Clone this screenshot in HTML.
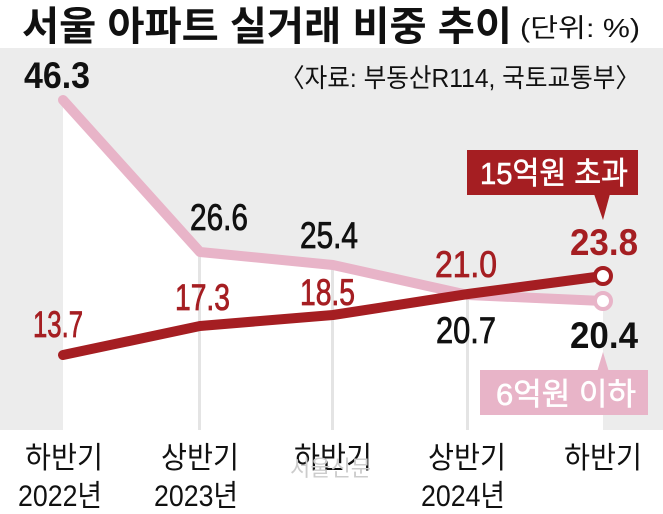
<!DOCTYPE html>
<html><head><meta charset="utf-8"><style>
body{margin:0;background:#fff}
text{font-family:"Liberation Sans","Noto Sans CJK KR",sans-serif}
</style></head><body>
<svg width="663" height="509" viewBox="0 0 663 509" xmlns="http://www.w3.org/2000/svg">
<rect x="0" y="0" width="663" height="509" fill="#fff"/>
<rect x="0" y="48" width="663" height="382" fill="#ececec"/>
<polygon points="63,100 200,252 333,265 468,295 603,301 603,430 63,430" fill="#fff"/>
<g fill="#e4e4e4">
<rect x="198" y="252" width="3" height="178"/>
<rect x="331" y="265" width="3" height="165"/>
<rect x="466" y="295" width="3" height="135"/>
</g>
<text x="22" y="40" font-size="40" font-weight="bold" fill="#111" textLength="490" lengthAdjust="spacingAndGlyphs">서울 아파트 실거래 비중 추이</text>
<text x="520" y="37" font-size="26" fill="#111" textLength="120" lengthAdjust="spacingAndGlyphs">(단위: %)</text>
<text x="280" y="87" font-size="26" fill="#111" textLength="360" lengthAdjust="spacingAndGlyphs">〈자료: 부동산R114, 국토교통부〉</text>
<polyline points="63,100 200,252 333,265 468,295 603,301" fill="none" stroke="#e8b4c8" stroke-width="10" stroke-linejoin="round" stroke-linecap="round"/>
<polyline points="63,355 200,326 333,315 468,294 603,276" fill="none" stroke="#a51e22" stroke-width="10" stroke-linejoin="round" stroke-linecap="round"/>
<circle cx="603" cy="276" r="8" fill="#fff" stroke="#a51e22" stroke-width="4"/>
<circle cx="603" cy="301" r="8" fill="#fff" stroke="#e8b4c8" stroke-width="4"/>
<g font-size="37" fill="#111">
<text x="24" y="88" font-weight="bold" textLength="66" lengthAdjust="spacingAndGlyphs">46.3</text>
<g stroke="#111" stroke-width="0.8">
<text x="190" y="230" textLength="58" lengthAdjust="spacingAndGlyphs">26.6</text>
<text x="300" y="248" textLength="58" lengthAdjust="spacingAndGlyphs">25.4</text>
<text x="436" y="343" textLength="60" lengthAdjust="spacingAndGlyphs">20.7</text>
</g>
<text x="570" y="348" font-weight="bold" textLength="68" lengthAdjust="spacingAndGlyphs">20.4</text>
</g>
<g font-size="37" fill="#a51e22">
<g stroke="#a51e22" stroke-width="0.8">
<text x="33" y="337" textLength="50" lengthAdjust="spacingAndGlyphs">13.7</text>
<text x="175" y="310" textLength="55" lengthAdjust="spacingAndGlyphs">17.3</text>
<text x="300" y="305" textLength="55" lengthAdjust="spacingAndGlyphs">18.5</text>
<text x="435" y="277" textLength="62" lengthAdjust="spacingAndGlyphs">21.0</text>
</g>
<text x="570" y="255" font-weight="bold" textLength="68" lengthAdjust="spacingAndGlyphs">23.8</text>
</g>
<rect x="467" y="150" width="171" height="45" fill="#a51e22"/>
<polygon points="594,194 610,194 603,220" fill="#a51e22"/>
<text x="480" y="184" font-size="31" fill="#fff" stroke="#fff" stroke-width="0.6" textLength="148" lengthAdjust="spacingAndGlyphs">15억원 초과</text>
<polygon points="597,372 609,372 603,352" fill="#e8b4c8"/>
<rect x="480" y="370" width="168" height="45" fill="#e8b4c8"/>
<text x="496" y="405" font-size="31" fill="#fff" stroke="#fff" stroke-width="0.6" textLength="140" lengthAdjust="spacingAndGlyphs">6억원 이하</text>
<g font-size="30" fill="#111" text-anchor="middle">
<text x="64" y="468" textLength="78" lengthAdjust="spacingAndGlyphs">하반기</text><text x="60" y="506" textLength="84" lengthAdjust="spacingAndGlyphs">2022년</text>
<text x="200" y="468" textLength="78" lengthAdjust="spacingAndGlyphs">상반기</text><text x="196" y="506" textLength="84" lengthAdjust="spacingAndGlyphs">2023년</text>
<text x="333" y="468" textLength="78" lengthAdjust="spacingAndGlyphs">하반기</text>
<text x="467" y="468" textLength="78" lengthAdjust="spacingAndGlyphs">상반기</text><text x="463" y="506" textLength="84" lengthAdjust="spacingAndGlyphs">2024년</text>
<text x="603" y="468" textLength="78" lengthAdjust="spacingAndGlyphs">하반기</text>
</g>
<text x="290" y="476" font-size="22" fill="#ccc">서울신문</text>
</svg>
</body></html>
